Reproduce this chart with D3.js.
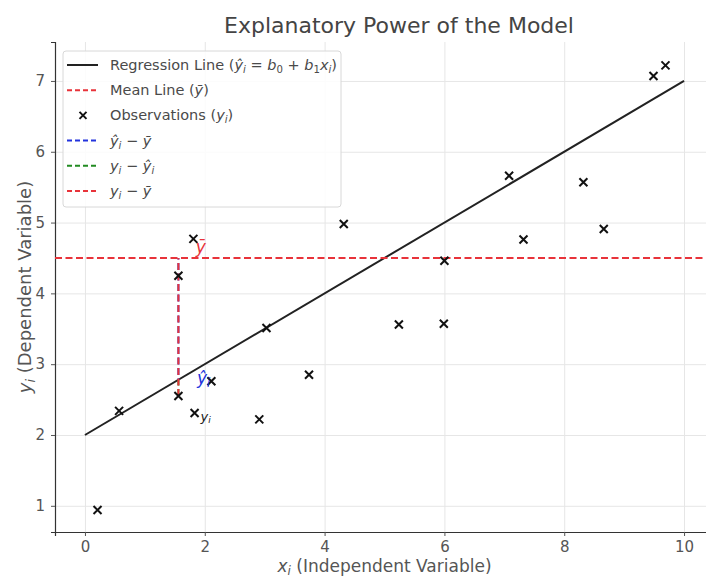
<!DOCTYPE html>
<html>
<head>
<meta charset="utf-8">
<script src="https://cdn.jsdelivr.net/npm/d3@7"></script>
<style>
  html, body { margin: 0; padding: 0; background: #fff; }
  svg { display: block; font-family: "DejaVu Sans", sans-serif; }
</style>
</head>
<body>
<svg id="chart" width="706" height="578"></svg>
<script>
// Observations (x_i, y_i)
const obsX = [0.21, 0.57, 1.56, 1.56, 1.81, 1.83, 2.11, 2.91, 3.03, 3.74,
              4.32, 5.24, 5.99, 6.00, 7.08, 7.32, 8.32, 8.66, 9.49, 9.69];
const obsY = [0.94, 2.34, 4.25, 2.55, 4.77, 2.31, 2.76, 2.22, 3.51, 2.85,
              4.98, 3.56, 3.57, 4.46, 5.66, 4.76, 5.57, 4.91, 7.07, 7.22];

// Regression line y = b0 + b1 x over [0, 10]
const b0 = 2.0;
const b1 = 0.5;
const lineX = [0, 10];
const meanY = 4.5;

// Highlighted observation used for the deviation segments
const hiX = 1.56;
const hiY = 2.55;

const xTicks = [0, 2, 4, 6, 8, 10];
const yTicks = [1, 2, 3, 4, 5, 6, 7];

const svg = d3.select("#chart");
const plotL = 55, plotR = 714, plotT = 42, plotB = 532;

const x = d3.scaleLinear().domain([-0.5, 10.5]).range([plotL, plotR]);
const y = d3.scaleLinear().domain([0.63, 7.55]).range([plotB, plotT]);

const textCol = "#555";
const gridCol = "#e6e6e6";
const spineCol = "#333";
const red = "#e8333a", blue = "#2233dd", green = "#228b22";

// grid
svg.append("g")
  .attr("transform", `translate(0,${plotB})`)
  .call(d3.axisBottom(x).tickValues(xTicks).tickSize(-(plotB - plotT)).tickFormat(""))
  .call(g => g.select(".domain").remove())
  .call(g => g.selectAll("line").attr("stroke", gridCol).attr("stroke-width", 1));
svg.append("g")
  .attr("transform", `translate(${plotL},0)`)
  .call(d3.axisLeft(y).tickValues(yTicks).tickSize(-(plotR - plotL)).tickFormat(""))
  .call(g => g.select(".domain").remove())
  .call(g => g.selectAll("line").attr("stroke", gridCol).attr("stroke-width", 1));

// axes
const xAxis = svg.append("g")
  .attr("transform", `translate(0,${plotB})`)
  .call(d3.axisBottom(x).tickValues(xTicks).tickSize(4).tickPadding(5).tickFormat(d3.format("d")));
const yAxis = svg.append("g")
  .attr("transform", `translate(${plotL},0)`)
  .call(d3.axisLeft(y).tickValues(yTicks).tickSize(4).tickPadding(6).tickFormat(d3.format("d")));
[xAxis, yAxis].forEach(a => {
  a.select(".domain").attr("stroke", spineCol).attr("stroke-width", 1.2);
  a.selectAll(".tick line").attr("stroke", "#555");
  a.selectAll(".tick text").attr("fill", textCol).attr("font-size", 15)
    .attr("font-family", "DejaVu Sans, sans-serif");
});

// helper for math-styled text runs
function richText(sel, parts, size) {
  parts.forEach(p => {
    const t = sel.append("tspan").text(p.t);
    if (p.i) t.attr("font-style", "italic");
    if (p.sub) t.attr("font-size", size * 0.7).attr("dy", size * 0.2);
    if (p.back) t.attr("dy", -size * 0.2);
  });
}

svg.append("defs").append("clipPath").attr("id", "plotClip")
  .append("rect").attr("x", plotL).attr("y", plotT).attr("width", plotR - plotL).attr("height", plotB - plotT);
const plot = svg.append("g").attr("clip-path", "url(#plotClip)");

// regression line
plot.append("line")
  .attr("x1", x(lineX[0])).attr("y1", y(b0 + b1 * lineX[0]))
  .attr("x2", x(lineX[1])).attr("y2", y(b0 + b1 * lineX[1]))
  .attr("stroke", "#222").attr("stroke-width", 2);

// mean line
plot.append("line")
  .attr("x1", plotL).attr("x2", plotR)
  .attr("y1", y(meanY)).attr("y2", y(meanY))
  .attr("stroke", red).attr("stroke-width", 2).attr("stroke-dasharray", "7,3.5");

// deviation segments, all dashed from the observation upward so the dash phases line up
const hiHat = b0 + b1 * hiX;
const segs = [
  { y1: hiHat, y2: meanY, c: blue },
  { y1: hiY, y2: hiHat, c: green },
  { y1: hiY, y2: meanY, c: red }
];
plot.selectAll(".seg").data(segs).join("line")
  .attr("x1", x(hiX)).attr("x2", x(hiX))
  .attr("y1", d => y(d.y1)).attr("y2", d => y(d.y2))
  .attr("stroke", d => d.c).attr("stroke-width", 2).attr("stroke-dasharray", "7,3.5")
  .attr("stroke-dashoffset", d => y(hiY) - y(d.y1));

// observations
const obs = obsX.map((v, i) => ({ x: v, y: obsY[i] }));
const m = 4;
plot.selectAll(".obs").data(obs).join("path")
  .attr("d", d => `M${x(d.x) - m},${y(d.y) - m}L${x(d.x) + m},${y(d.y) + m}M${x(d.x) - m},${y(d.y) + m}L${x(d.x) + m},${y(d.y) - m}`)
  .attr("stroke", "#111").attr("stroke-width", 2);

// annotations
const ann1 = svg.append("text").attr("x", x(1.85)).attr("y", y(4.57))
  .attr("fill", red).attr("font-size", 17);
richText(ann1, [{ t: "\u0233", i: true }], 17);
const ann2 = svg.append("text").attr("x", x(1.87)).attr("y", y(2.72))
  .attr("fill", blue).attr("font-size", 17);
richText(ann2, [{ t: "\u0177", i: true }, { t: "i", i: true, sub: true }], 17);
const ann3 = svg.append("text").attr("x", x(1.93)).attr("y", y(2.2))
  .attr("fill", "#222").attr("font-size", 13);
richText(ann3, [{ t: "y", i: true }, { t: "i", i: true, sub: true }], 13);

// title and axis labels
svg.append("text").attr("x", 399).attr("y", 33)
  .attr("text-anchor", "middle").attr("font-size", 22).attr("fill", "#444")
  .text("Explanatory Power of the Model");

const xl = svg.append("text").attr("x", (plotL + plotR) / 2).attr("y", 572)
  .attr("text-anchor", "middle").attr("font-size", 17).attr("fill", textCol);
richText(xl, [{ t: "x", i: true }, { t: "i", i: true, sub: true }, { t: " (Independent Variable)", back: true }], 17);

const yl = svg.append("text").attr("transform", `translate(31,${(plotT + plotB) / 2}) rotate(-90)`)
  .attr("text-anchor", "middle").attr("font-size", 18).attr("fill", textCol);
richText(yl, [{ t: "y", i: true }, { t: "i", i: true, sub: true }, { t: " (Dependent Variable)", back: true }], 18);

// legend
const lg = svg.append("g").attr("transform", "translate(63,51)");
lg.append("rect").attr("width", 278).attr("height", 156).attr("rx", 3)
  .attr("fill", "#fff").attr("fill-opacity", 0.85).attr("stroke", "#d8d8d8");

const legendItems = [
  { type: "line", c: "#222", dash: null,
    parts: [{ t: "Regression Line (" }, { t: "\u0177", i: true }, { t: "i", i: true, sub: true }, { t: " = ", back: true },
            { t: "b", i: true }, { t: "0", sub: true }, { t: " + ", back: true }, { t: "b", i: true }, { t: "1", sub: true },
            { t: "x", i: true, back: true }, { t: "i", i: true, sub: true }, { t: ")", back: true }] },
  { type: "line", c: red, dash: "5,3", parts: [{ t: "Mean Line (" }, { t: "\u0233", i: true }, { t: ")" }] },
  { type: "mark", c: "#111", parts: [{ t: "Observations (" }, { t: "y", i: true }, { t: "i", i: true, sub: true }, { t: ")", back: true }] },
  { type: "line", c: blue, dash: "5,3",
    parts: [{ t: "\u0177", i: true }, { t: "i", i: true, sub: true }, { t: " \u2212 ", back: true }, { t: "\u0233", i: true }] },
  { type: "line", c: green, dash: "5,3",
    parts: [{ t: "y", i: true }, { t: "i", i: true, sub: true }, { t: " \u2212 ", back: true }, { t: "\u0177", i: true }, { t: "i", i: true, sub: true }] },
  { type: "line", c: red, dash: "5,3",
    parts: [{ t: "y", i: true }, { t: "i", i: true, sub: true }, { t: " \u2212 ", back: true }, { t: "\u0233", i: true }] }
];

legendItems.forEach((it, k) => {
  const cy = 14 + k * 25.2;
  if (it.type === "line") {
    lg.append("line").attr("x1", 4).attr("x2", 35).attr("y1", cy).attr("y2", cy)
      .attr("stroke", it.c).attr("stroke-width", 2)
      .attr("stroke-dasharray", it.dash);
  } else {
    const cx = 20, r = 3.5;
    lg.append("path").attr("d", `M${cx - r},${cy - r}L${cx + r},${cy + r}M${cx - r},${cy + r}L${cx + r},${cy - r}`)
      .attr("stroke", it.c).attr("stroke-width", 2);
  }
  const t = lg.append("text").attr("x", 47).attr("y", cy + 5)
    .attr("font-size", 14.5).attr("fill", "#4a4a4a");
  richText(t, it.parts, 14.5);
});
</script>
</body>
</html>
